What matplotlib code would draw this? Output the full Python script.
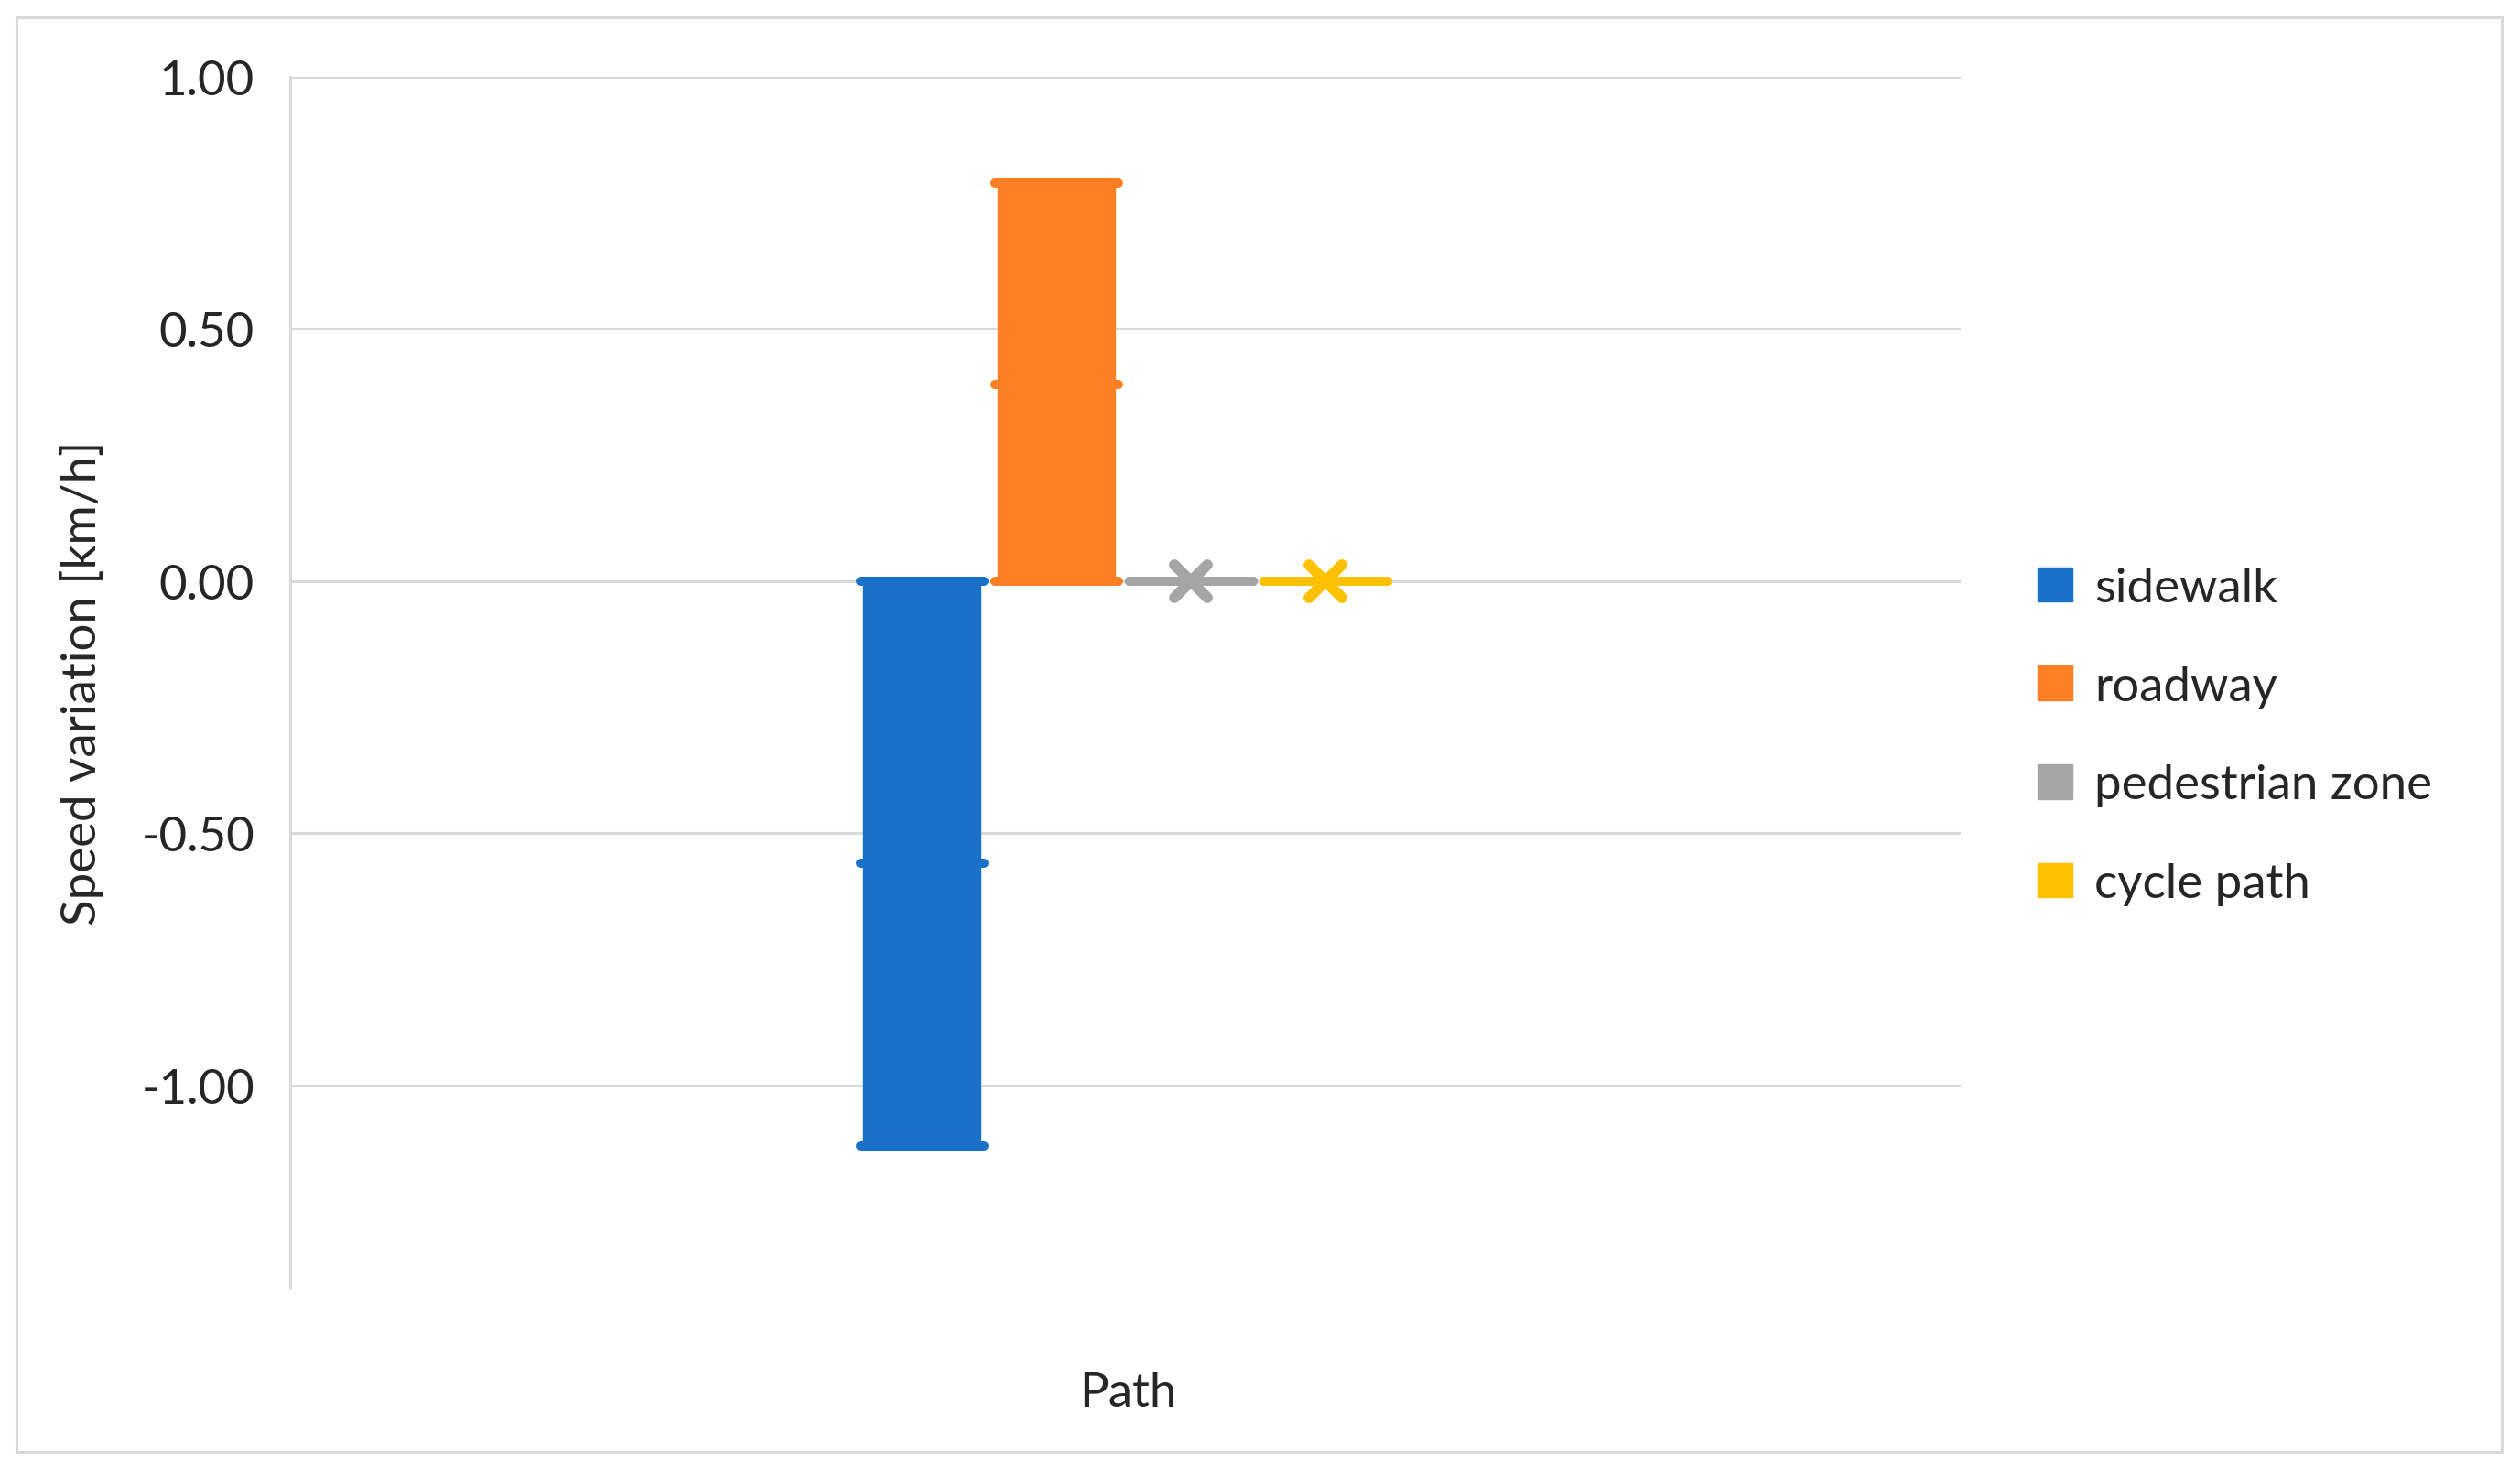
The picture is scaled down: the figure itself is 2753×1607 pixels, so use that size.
import matplotlib
matplotlib.use("Agg")
import matplotlib.pyplot as plt
from matplotlib.patches import Patch, Rectangle
from matplotlib.markers import MarkerStyle
from matplotlib.ticker import FormatStrFormatter

# data (Excel box & whisker, one category "Path")
series = ["sidewalk", "roadway", "pedestrian zone", "cycle path"]
q1 = [-1.12, 0.0, 0.0, 0.0]
median = [-0.56, 0.39, 0.0, 0.0]
q3 = [0.0, 0.79, 0.0, 0.0]
means = [-0.56, 0.39, 0.0, 0.0]
colors = ["#1A71C8", "#FF7F24", "#A5A5A5", "#FFC000"]
category = "Path"
yticks = [-1.0, -0.5, 0.0, 0.5, 1.0]

plt.rcParams["font.family"] = ["Lato", "DejaVu Sans"]
plt.rcParams["axes.unicode_minus"] = False
FS = 38
GRID = "#D9D9D9"
TXT = "#262626"

fig = plt.figure(figsize=(27.53, 16.08), dpi=100)
ax = fig.add_axes([317 / 2753, 201 / 1608, (2142 - 317) / 2753, (1523 - 201) / 1608])

slot = 0.0805
box_w = 0.07
cap_w = 0.074
offsets = [(i - 1.5) * slot - 0.001 for i in range(len(series))]

for i, name in enumerate(series):
    x = offsets[i]
    c = colors[i]
    ax.bar(x, q3[i] - q1[i], bottom=q1[i], width=box_w, color=c,
           edgecolor=c, linewidth=1, zorder=3)
    for v in (q1[i], median[i], q3[i]):
        ax.plot([x - cap_w / 2, x + cap_w / 2], [v, v], color=c, lw=7.2,
                solid_capstyle="round", zorder=4)
    ax.plot(x, means[i], linestyle="none", color=c,
            marker=MarkerStyle("x", capstyle="round"), markersize=26,
            markeredgewidth=8.5, zorder=5)

ax.set_xlim(-0.5, 0.5)
ax.set_ylim(-1.4, 1.0)
ax.set_yticks(yticks)
ax.yaxis.set_major_formatter(FormatStrFormatter("%.2f"))
ax.set_xticks([])
ax.tick_params(axis="y", length=0, pad=28, labelsize=FS, labelcolor=TXT)
ax.grid(axis="y", color=GRID, linewidth=2.2, zorder=0)
ax.set_axisbelow(True)
for s in ["top", "right", "bottom"]:
    ax.spines[s].set_visible(False)
ax.spines["left"].set_color(GRID)
ax.spines["left"].set_linewidth(2.2)

fig.text(90 / 2753, 1 - 746 / 1608, "Speed variation [km/h]", rotation=90,
         ha="center", va="center", fontsize=FS, color=TXT)
fig.text(1232 / 2753, 1 - 1523 / 1608, category, ha="center", va="center",
         fontsize=FS, color=TXT)

handles = [Patch(facecolor=c, edgecolor=c) for c in colors]
fig.legend(handles, series, loc="center left",
           bbox_to_anchor=(2226 / 2753, 1 - 805 / 1608), frameon=False,
           fontsize=FS, labelcolor=TXT, handlelength=0.72, handleheight=0.72,
           handletextpad=0.45, labelspacing=1.15, borderpad=0, borderaxespad=0)

# outer chart border
fig.patches.append(Rectangle((18 / 2753, 1 - 1587 / 1608), (2733 - 18) / 2753,
                             (1587 - 20) / 1608, transform=fig.transFigure,
                             fill=False, edgecolor=GRID, linewidth=2.2))

fig.savefig("out.png", dpi=100)
